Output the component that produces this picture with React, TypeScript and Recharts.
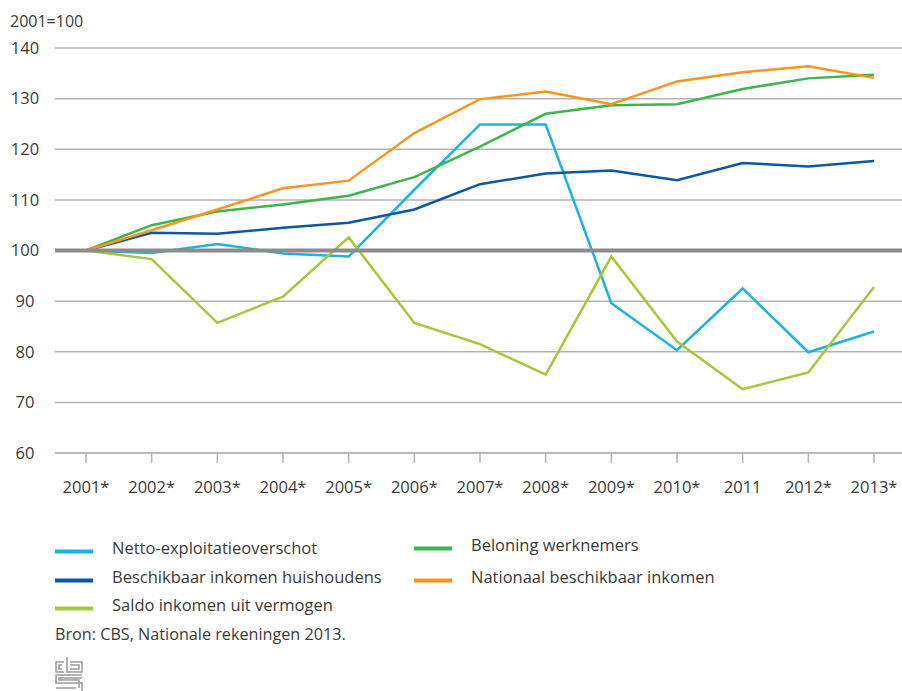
import React from 'react';
import {CartesianGrid, Line, LineChart, ReferenceLine, XAxis, YAxis} from 'recharts';

const years = ['2001*', '2002*', '2003*', '2004*', '2005*', '2006*', '2007*', '2008*', '2009*', '2010*', '2011', '2012*', '2013*'];
const netto = [100, 99.5, 101.3, 99.4, 98.8, 112, 124.9, 124.9, 89.6, 80.3, 92.5, 79.9, 84.0];
const beschikbaar = [100, 103.5, 103.3, 104.5, 105.5, 108.1, 113.1, 115.2, 115.8, 113.9, 117.3, 116.6, 117.7];
const saldo = [100, 98.3, 85.7, 90.9, 102.6, 85.7, 81.5, 75.5, 98.8, 82.0, 72.6, 75.9, 92.8];
const beloning = [100, 105.0, 107.7, 109.1, 110.8, 114.5, 120.5, 127.0, 128.7, 128.9, 131.9, 134.0, 134.7];
const nationaal = [100, 104.0, 108.1, 112.3, 113.8, 123.2, 129.9, 131.4, 128.9, 133.4, 135.2, 136.4, 134.1];
const yTicks = [60, 70, 80, 90, 100, 110, 120, 130, 140];

const FONT = '"Open Sans", "Noto Sans", sans-serif';
const TEXT = '#3a3a3a';
const GRID = '#b3b3b3';
const FS = 16.5;

const series = [
  {key: 'netto', name: 'Netto-exploitatieoverschot', color: '#1ab4e0'},
  {key: 'beschikbaar', name: 'Beschikbaar inkomen huishoudens', color: '#0b57a4'},
  {key: 'saldo', name: 'Saldo inkomen uit vermogen', color: '#a5c83a'},
  {key: 'beloning', name: 'Beloning werknemers', color: '#3db54a'},
  {key: 'nationaal', name: 'Nationaal beschikbaar inkomen', color: '#f7961f'},
];

const data = years.map((year, i) => ({
  year,
  netto: netto[i],
  beschikbaar: beschikbaar[i],
  saldo: saldo[i],
  beloning: beloning[i],
  nationaal: nationaal[i],
}));

const YTick = ({y, payload}: any) => (
  <text x={25} y={y} dy="0.35em" textAnchor="middle" fill={TEXT} fontSize={FS} fontFamily={FONT}>
    {payload.value}
  </text>
);

// legend rows: [series index, x, y]
const legendPos: [number, number, number][] = [
  [0, 55, 548],
  [1, 55, 577],
  [2, 55, 605],
  [3, 414, 545],
  [4, 414, 577],
];

function Overlay() {
  return (
    <svg width={902} height={691} style={{position: 'absolute', left: 0, top: 0, pointerEvents: 'none'}}>
      <text x={10} y={21} dy="0.35em" fill={TEXT} fontSize={16} fontFamily={FONT}>2001=100</text>
      {legendPos.map(([si, x, y]) => (
        <g key={si}>
          <line x1={x} x2={x + 38} y1={y + 3.5} y2={y + 3.5} stroke={series[si].color} strokeWidth={4} />
          <text x={x + 57} y={y} dy="0.35em" fill={TEXT} fontSize={FS} fontFamily={FONT}>
            {series[si].name}
          </text>
        </g>
      ))}
      <text x={55} y={634} dy="0.35em" fill={TEXT} fontSize={16.2} fontFamily={FONT}>
        Bron: CBS, Nationale rekeningen 2013.
      </text>
      <g fill="none" stroke="#9a9a9a" strokeWidth={1.5}>
        <path d="M64 662 H56 V672 H64" />
        <path d="M62 665 H59 V669 H62" />
        <path d="M67 657 V672 H82 V662 H70" />
        <path d="M70 665 H79 V669 H70" />
        <path d="M82 675 H56 V683 H82 V691" />
        <path d="M82 678 H59 V680 H79 V688" />
        <path d="M56 688 H76" />
      </g>
    </svg>
  );
}

export default function App() {
  return (
    <div style={{position: 'absolute', left: 0, top: 0, width: 902, height: 691, background: '#fff', fontFamily: FONT}}>
      <LineChart width={902} height={691} data={data} margin={{top: 48, right: 0, bottom: 188, left: 0}}>
        <CartesianGrid vertical={false} stroke={GRID} strokeWidth={1.5} />
        <XAxis
          dataKey="year"
          height={50}
          interval={0}
          padding={{left: 31, right: 28}}
          tickSize={10}
          tickMargin={18}
          axisLine={{stroke: GRID, strokeWidth: 1.5}}
          tickLine={{stroke: GRID, strokeWidth: 1.5}}
          tick={{fill: TEXT, fontSize: FS, fontFamily: FONT}}
        />
        <YAxis
          width={55}
          domain={[60, 140]}
          ticks={yTicks}
          interval={0}
          axisLine={false}
          tickLine={false}
          tick={<YTick />}
        />
        {series.map((s) => (
          <Line
            key={s.key}
            type="linear"
            dataKey={s.key}
            name={s.name}
            stroke={s.color}
            strokeWidth={2.5}
            dot={false}
            activeDot={false}
            isAnimationActive={false}
          />
        ))}
        <ReferenceLine y={100} stroke="#8c8c8c" strokeWidth={4} />
      </LineChart>
      <Overlay />
    </div>
  );
}
